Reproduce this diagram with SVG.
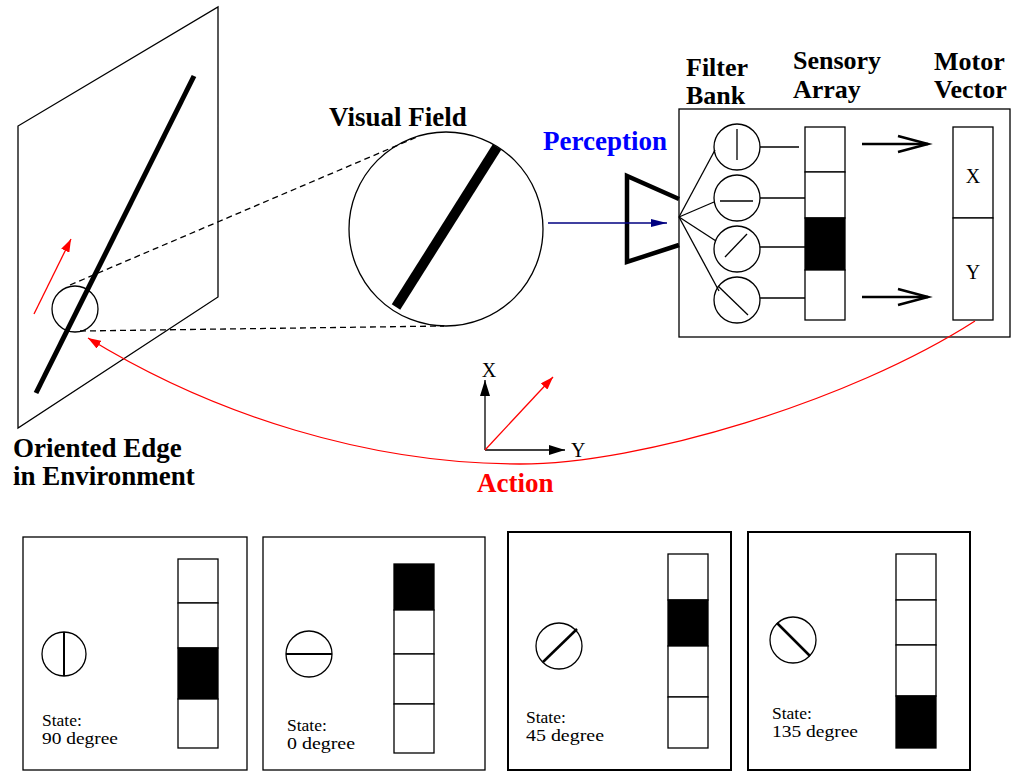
<svg xmlns="http://www.w3.org/2000/svg" width="1016" height="771" viewBox="0 0 1016 771">
<style>
.t{font-family:"Liberation Serif","Times New Roman",serif;}
.b{font-family:"Liberation Serif","Times New Roman",serif;font-weight:bold;font-size:27px;}
.h{font-family:"Liberation Serif","Times New Roman",serif;font-weight:bold;font-size:26px;}
.s{font-family:"Liberation Serif","Times New Roman",serif;font-size:17.5px;}
.ln{fill:none;stroke:#000;stroke-width:1.3;}
.cell{fill:#fff;stroke:#000;stroke-width:1.3;}
.blk{fill:#000;stroke:#000;stroke-width:1.3;}
.dash{fill:none;stroke:#000;stroke-width:1.3;stroke-dasharray:6,4;}
.red{fill:none;stroke:#ff0000;stroke-width:1.3;}
</style>
<defs>
<marker id="ar" viewBox="0 0 10 10" refX="10" refY="5" markerWidth="13" markerHeight="9" markerUnits="userSpaceOnUse" orient="auto" preserveAspectRatio="none"><path d="M0,0 L10,5 L0,10 z" fill="#ff0000"/></marker>
<marker id="ab" viewBox="0 0 10 10" refX="10" refY="5" markerWidth="16" markerHeight="10" markerUnits="userSpaceOnUse" orient="auto" preserveAspectRatio="none"><path d="M0,0 L10,5 L0,10 z" fill="#000"/></marker>
<marker id="an" viewBox="0 0 10 10" refX="10" refY="5" markerWidth="16" markerHeight="8" markerUnits="userSpaceOnUse" orient="auto" preserveAspectRatio="none"><path d="M0,0 L10,5 L0,10 z" fill="#000080"/></marker>
</defs>

<g id="environment">
<polygon points="218,7 218,297 18,428 18,126" class="ln"/>
<line x1="194" y1="76" x2="36" y2="393" stroke="#000" stroke-width="5"/>
<circle cx="75" cy="309" r="23" class="ln"/>
<line x1="34" y1="314" x2="71" y2="239" class="red" marker-end="url(#ar)"/>
<text x="13" y="457" class="b">Oriented Edge</text>
<text x="13" y="485" class="b">in Environment</text>
</g>

<g id="visual-field">
<circle cx="446" cy="229" r="97" class="ln"/>
<line x1="497" y1="147" x2="396" y2="307" stroke="#000" stroke-width="10"/>
<text x="329" y="126" class="b">Visual Field</text>
</g>

<g id="perception">
<text x="543" y="150" class="b" fill="#0000ff">Perception</text>
<polyline points="679,199 627,176 627,262 679,245" fill="none" stroke="#000" stroke-width="4.5"/>
</g>

<g id="processor">
<rect x="679" y="109" width="331" height="228" class="ln"/>
<text x="686" y="76" class="h">Filter</text>
<text x="686" y="104" class="h">Bank</text>
<text x="793" y="69" class="h">Sensory</text>
<text x="793" y="98" class="h">Array</text>
<text x="934" y="70" class="h">Motor</text>
<text x="934" y="98" class="h">Vector</text>
</g>

<g id="filter-bank">
<circle cx="737" cy="147" r="23" class="ln"/>
<line x1="737" y1="129" x2="737" y2="160" class="ln"/>
<circle cx="737" cy="198" r="23" class="ln"/>
<line x1="720" y1="201" x2="753" y2="201" class="ln"/>
<circle cx="737" cy="249" r="23" class="ln"/>
<line x1="725" y1="257" x2="747" y2="234" class="ln"/>
<circle cx="737" cy="300" r="23" class="ln"/>
<line x1="718" y1="286" x2="748" y2="315" class="ln"/>
</g>

<g id="sensory-array">
<rect x="805" y="127" width="40" height="45" class="cell"/>
<rect x="805" y="172" width="40" height="46" class="cell"/>
<rect x="805" y="218" width="40" height="52" class="blk"/>
<rect x="805" y="270" width="40" height="50" class="cell"/>
</g>

<g id="motor-vector">
<rect x="953" y="127" width="40" height="91" class="cell"/>
<rect x="953" y="218" width="40" height="102" class="cell"/>
<text x="973" y="183" class="t" font-size="20" text-anchor="middle">X</text>
<text x="973" y="279" class="t" font-size="20" text-anchor="middle">Y</text>
</g>

<g id="axes">
<line x1="485" y1="450" x2="485" y2="380" class="ln" marker-end="url(#ab)"/>
<line x1="485" y1="450" x2="565" y2="450" class="ln" marker-end="url(#ab)"/>
<line x1="485" y1="450" x2="553" y2="377" class="red" marker-end="url(#ar)"/>
<text x="489" y="377" class="t" font-size="20" text-anchor="middle">X</text>
<text x="571" y="457" class="t" font-size="20">Y</text>
<text x="477" y="492" class="b" fill="#ff0000">Action</text>
</g>

<g id="connectors">
<line x1="70" y1="285" x2="417" y2="137" class="dash"/>
<line x1="80" y1="331" x2="444" y2="326" class="dash"/>
<line x1="548" y1="223" x2="667" y2="223" stroke="#000080" stroke-width="1.3" marker-end="url(#an)"/>
<line x1="679" y1="217" x2="715" y2="150" class="ln"/>
<line x1="679" y1="217" x2="714" y2="202" class="ln"/>
<line x1="679" y1="217" x2="716" y2="241" class="ln"/>
<line x1="679" y1="217" x2="719" y2="291" class="ln"/>
<line x1="760" y1="147" x2="799" y2="147" class="ln"/>
<line x1="760" y1="198" x2="805" y2="198" class="ln"/>
<line x1="760" y1="247" x2="805" y2="247" class="ln"/>
<line x1="760" y1="298" x2="805" y2="298" class="ln"/>
<line x1="862" y1="144" x2="928" y2="144" stroke="#000" stroke-width="2.5"/>
<polyline points="898,136 928,144 898,152" fill="none" stroke="#000" stroke-width="2.5"/>
<line x1="862" y1="297" x2="928" y2="297" stroke="#000" stroke-width="2.5"/>
<polyline points="898,289 928,297 898,305" fill="none" stroke="#000" stroke-width="2.5"/>
<path d="M975,321 C849,402 640,464 520,464 C370,464 215,416 88,338" class="red" marker-end="url(#ar)"/>
</g>

<g id="state-90">
<rect x="23" y="537" width="224" height="233" class="ln"/>
<circle cx="64" cy="654" r="22" class="ln"/>
<line x1="64" y1="632" x2="64" y2="676" stroke="#000" stroke-width="2"/>
<rect x="178" y="559" width="40" height="44" class="cell"/>
<rect x="178" y="603" width="40" height="45" class="cell"/>
<rect x="178" y="648" width="40" height="51" class="blk"/>
<rect x="178" y="699" width="40" height="49" class="cell"/>
<text x="42" y="726" class="s">State:</text>
<text x="42" y="744" class="s" textLength="76" lengthAdjust="spacingAndGlyphs">90 degree</text>
</g>

<g id="state-0">
<rect x="263" y="537" width="222" height="233" class="ln"/>
<circle cx="309" cy="654" r="23" class="ln"/>
<line x1="286" y1="654" x2="332" y2="654" stroke="#000" stroke-width="2"/>
<rect x="394" y="564" width="40" height="46" class="blk"/>
<rect x="394" y="610" width="40" height="44" class="cell"/>
<rect x="394" y="654" width="40" height="50" class="cell"/>
<rect x="394" y="704" width="40" height="49" class="cell"/>
<text x="287" y="731" class="s">State:</text>
<text x="287" y="749" class="s" textLength="68" lengthAdjust="spacingAndGlyphs">0 degree</text>
</g>

<g id="state-45">
<rect x="508" y="532" width="223" height="238" fill="none" stroke="#000" stroke-width="2"/>
<circle cx="559" cy="646" r="23" class="ln"/>
<line x1="543" y1="662" x2="577" y2="629" stroke="#000" stroke-width="2.5"/>
<rect x="668" y="554" width="40" height="46" class="cell"/>
<rect x="668" y="600" width="40" height="46" class="blk"/>
<rect x="668" y="646" width="40" height="51" class="cell"/>
<rect x="668" y="697" width="40" height="51" class="cell"/>
<text x="526" y="723" class="s">State:</text>
<text x="526" y="741" class="s" textLength="78" lengthAdjust="spacingAndGlyphs">45 degree</text>
</g>

<g id="state-135">
<rect x="748" y="532" width="222" height="238" fill="none" stroke="#000" stroke-width="2"/>
<circle cx="793" cy="640" r="23" class="ln"/>
<line x1="777" y1="623" x2="810" y2="656" stroke="#000" stroke-width="2.5"/>
<rect x="896" y="554" width="40" height="46" class="cell"/>
<rect x="896" y="600" width="40" height="45" class="cell"/>
<rect x="896" y="645" width="40" height="51" class="cell"/>
<rect x="896" y="696" width="40" height="52" class="blk"/>
<text x="772" y="719" class="s">State:</text>
<text x="772" y="737" class="s" textLength="86" lengthAdjust="spacingAndGlyphs">135 degree</text>
</g>
</svg>
